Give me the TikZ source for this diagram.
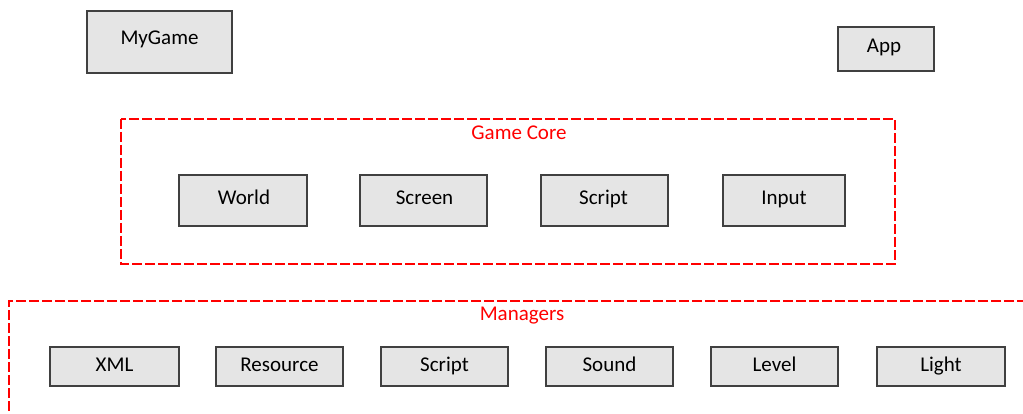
\documentclass[tikz,border=0pt]{standalone}
\usepackage{fontspec}
\setmainfont{Carlito}
\begin{document}
\begin{tikzpicture}[x=1pt,y=-1pt,
  box/.style={draw=black!75, line width=1.2pt, fill=black!10},
  grp/.style={draw=red, line width=1.1pt, dash pattern=on 10pt off 3pt},
  lbl/.style={font=\fontsize{21}{24}\selectfont, inner sep=0pt, text height=15pt, text depth=4pt},
  rlbl/.style={lbl, text=red}]
\useasboundingbox (0,0) rectangle (1023,414);
\clip (0,0) rectangle (1023,414);
% top
\draw[box] (87,11) rectangle (232,73);
\node[lbl] (mygame) at (159.5,39) {MyGame};
\draw[box] (838,27) rectangle (934,71);
\node[lbl] (app) at (884,47) {App};
% Game core
\draw[grp] (121,119) rectangle (895,264);
\node[rlbl] (gc) at (519,134) {Game Core};
\draw[box] (179,175) rectangle (307,226); \node[lbl] (world) at (244,199.5) {World};
\draw[box] (360,175) rectangle (487,226); \node[lbl] (screen) at (424.5,199.5) {Screen};
\draw[box] (541,175) rectangle (668,226); \node[lbl] (script1) at (603.5,199.5) {Script};
\draw[box] (723,175) rectangle (845,226); \node[lbl] (input) at (784,199.5) {Input};
% Managers
\draw[grp] (1040,301) -- (9,301) -- (9,430);
\node[rlbl] (mg) at (522,315) {Managers};
\draw[box] (50,347) rectangle (179,386); \node[lbl] (xml) at (114.5,365.5) {XML};
\draw[box] (216,347) rectangle (343,386); \node[lbl] (res) at (279.5,365.5) {Resource};
\draw[box] (381,347) rectangle (508,386); \node[lbl] (script2) at (444.5,365.5) {Script};
\draw[box] (546,347) rectangle (673,386); \node[lbl] (sound) at (609.5,365.5) {Sound};
\draw[box] (711,347) rectangle (838,386); \node[lbl] (level) at (774.5,365.5) {Level};
\draw[box] (877,347) rectangle (1005,386); \node[lbl] (light) at (941,365.5) {Light};
\end{tikzpicture}
\end{document}
